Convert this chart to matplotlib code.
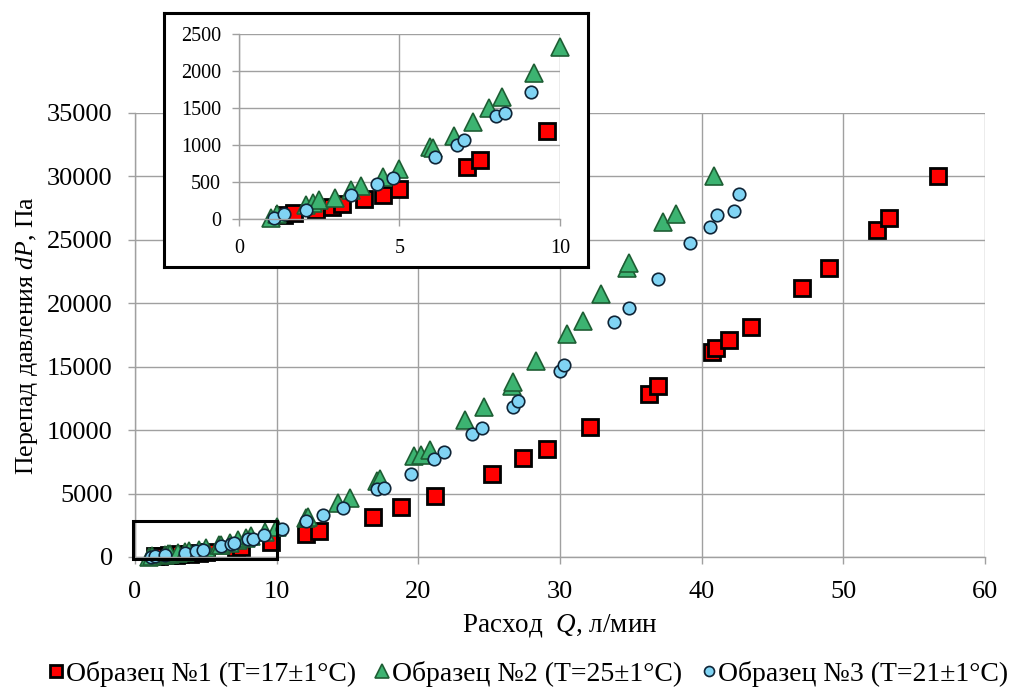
"""Pressure drop vs flow rate for three samples, with a zoomed inset."""

import matplotlib

matplotlib.use("Agg")  # no display

import matplotlib.pyplot as plt
from matplotlib.patches import ConnectionPatch, Rectangle

# Sample 1 (T=17 C)
q1 = [1.4, 1.7, 2.4, 2.9, 3.2, 3.9, 4.5, 5.0, 7.1, 7.5, 9.6,
      12.1, 13.0, 16.8, 18.8, 21.2, 25.2, 27.4, 29.1, 32.1, 36.3, 36.9,
      40.7, 41.0, 41.9, 43.5, 47.1, 49.0, 52.4, 53.2, 56.7]
dp1 = [60, 80, 125, 170, 205, 270, 330, 410, 710, 795, 1190,
       1800, 2050, 3180, 3950, 4800, 6570, 7840, 8500, 10260, 12850, 13480,
       16150, 16450, 17070, 18130, 21240, 22800, 25780, 26750, 30050]

# Sample 2 (T=25 C)
q2 = [1.0, 1.2, 2.1, 2.3, 2.5, 3.0, 3.5, 3.8, 4.5, 5.0, 5.95, 6.05, 6.7,
      7.3, 7.8, 8.2, 9.2, 10.0,
      12.1, 12.2, 14.3, 15.2, 17.1, 17.3, 19.7, 20.2, 20.8, 23.3, 24.6,
      26.6, 26.7, 28.3, 30.5, 31.6, 32.9, 34.7, 34.9, 37.3, 38.2, 40.9]
dp2 = [20, 70, 195, 225, 260, 285, 395, 450, 575, 675, 975, 965, 1130,
       1320, 1500, 1650, 1975, 2335,
       3060, 3190, 4250, 4640, 5960, 6150, 7940, 8070, 8470, 10790, 11790,
       13500, 13770, 15440, 17600, 18600, 20710, 22820, 23140, 26440, 27020, 30050]

# Sample 3 (T=21 C)
q3 = [1.1, 1.4, 2.1, 3.5, 4.3, 4.8, 6.1, 6.8, 7.0, 8.0, 8.3, 9.1,
      10.4, 12.1, 13.3, 14.7, 17.1, 17.6, 19.5, 21.1, 21.8, 23.8, 24.5,
      26.65, 27.0, 30.0, 30.3, 33.8, 34.9, 36.9, 39.2, 40.6, 41.1, 42.3, 42.6]
dp3 = [15, 70, 125, 325, 475, 555, 840, 1005, 1070, 1395, 1430, 1715,
       2200, 2800, 3320, 3900, 5380, 5430, 6570, 7760, 8260, 9680, 10130,
       11790, 12270, 14700, 15150, 18520, 19630, 21900, 24720, 26040, 26970, 27280, 28600]

labels = [
    "Образец №1 (T=17±1°C)",
    "Образец №2 (T=25±1°C)",
    "Образец №3 (T=21±1°C)",
]

# inset range
INSET_Q = 10
INSET_DP = 2500

plt.rcParams["font.family"] = ["Liberation Serif", "DejaVu Serif"]
plt.rcParams["mathtext.fontset"] = "custom"
plt.rcParams["mathtext.rm"] = "Liberation Serif"
plt.rcParams["mathtext.it"] = "Liberation Serif:italic"

GRID = "#a0a0a0"

styles = [
    dict(marker="s", markersize=11, markerfacecolor="#ff0000",
         markeredgecolor="black", markeredgewidth=2.0),
    dict(marker="^", markersize=13, markerfacecolor="#3cb371",
         markeredgecolor="#1e5e34", markeredgewidth=1.2),
    dict(marker="o", markersize=9, markerfacecolor="#80d4f4",
         markeredgecolor="#0f2436", markeredgewidth=1.2),
]
series = [(q1, dp1), (q2, dp2), (q3, dp3)]


def style_axes(ax, tick_size, pad_x, pad_y):
    ax.grid(True, color=GRID, linewidth=1.0)
    ax.set_axisbelow(True)
    for side in ("top", "right"):
        ax.spines[side].set_visible(False)
    for side in ("left", "bottom"):
        ax.spines[side].set_color(GRID)
        ax.spines[side].set_linewidth(1.0)
    ax.tick_params(axis="both", direction="out", length=5, width=1.0,
                   color=GRID, labelsize=tick_size)
    ax.tick_params(axis="x", pad=pad_x)
    ax.tick_params(axis="y", pad=pad_y)


fig = plt.figure(figsize=(10.13, 6.89), dpi=100)

# Main chart
ax = fig.add_axes([0.1333, 0.1916, 0.8391, 0.6444])
ax.set_zorder(1)
for (q, dp), st, lab in zip(series, styles, labels):
    ax.plot(q, dp, linestyle="none", clip_on=False, label=lab, **st)
ax.set_xlim(0, 60)
ax.set_ylim(0, 35000)
ax.set_xticks(range(0, 61, 10))
ax.set_yticks(range(0, 35001, 5000))
style_axes(ax, 19, 12, 11)
ax.set_xlabel("Расход  $Q$, л/мин", fontsize=19.5, labelpad=7)
ax.set_ylabel("Перепад давления $dP$, Па", fontsize=18.5, labelpad=5)

# Box marking the zoomed region
ax.add_patch(Rectangle((-0.15, -130), 10.2, 2970, fill=False,
                       edgecolor="black", linewidth=2.2, clip_on=False, zorder=5))

# Inset frame and inset chart
frame = fig.add_axes([0.1619, 0.6125, 0.4186, 0.3686])
frame.set_zorder(2)
frame.set_xticks([])
frame.set_yticks([])
for sp in frame.spines.values():
    sp.set_linewidth(2.2)
    sp.set_color("black")

ins = fig.add_axes([0.2359, 0.6817, 0.3169, 0.2685])
ins.set_zorder(3)
ins.patch.set_alpha(0)
for (q, dp), st in zip(series, styles):
    pts = [(a, b) for a, b in zip(q, dp) if a <= INSET_Q + 0.1 and b <= INSET_DP]
    ins.plot([p[0] for p in pts], [p[1] for p in pts], linestyle="none",
             clip_on=False, **st)
ins.set_xlim(0, INSET_Q)
ins.set_ylim(0, INSET_DP)
ins.set_xticks([0, 5, 10])
ins.set_yticks(range(0, INSET_DP + 1, 500))
style_axes(ins, 14.5, 9, 8)

# Line from the box to the inset
con = ConnectionPatch(xyA=(5.1, 2840), coordsA="data", axesA=ax,
                      xyB=(0.509, 0.0), coordsB="axes fraction", axesB=frame,
                      color="black", linewidth=2.0)
fig.add_artist(con)

fig.legend(*ax.get_legend_handles_labels(), loc="center",
           bbox_to_anchor=(0.522, 0.022), ncol=3, frameon=False,
           fontsize=20, handlelength=0.5, handletextpad=0.1,
           columnspacing=0.7, borderaxespad=0, markerscale=0.8)

fig.savefig("out.png", dpi=100)
